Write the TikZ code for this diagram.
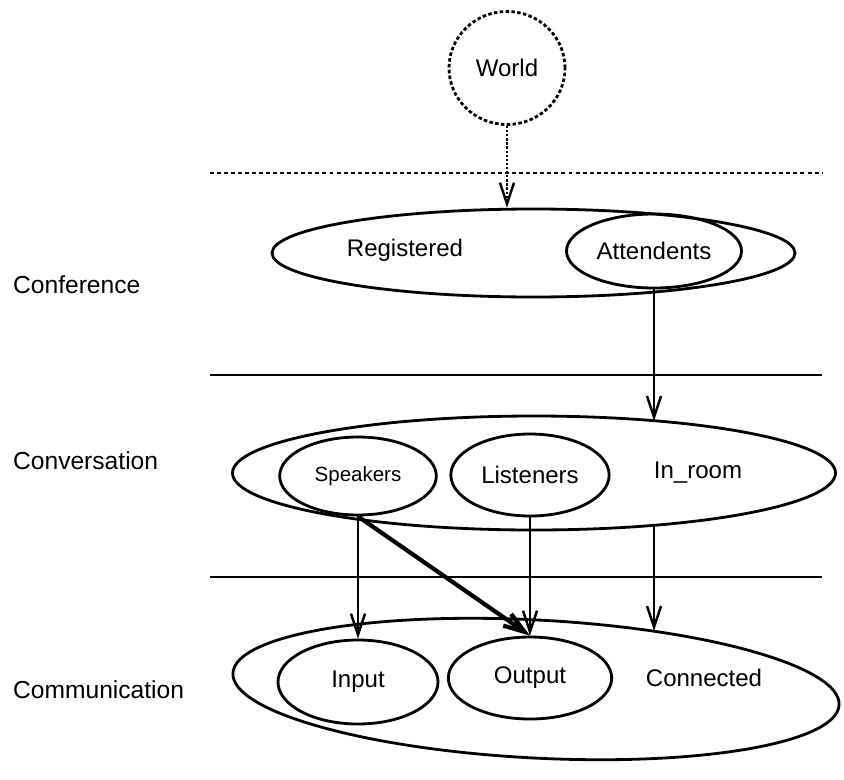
\documentclass[tikz,border=0pt]{standalone}
\usepackage{fontspec}
\setmainfont{Liberation Sans}
\usetikzlibrary{shapes.geometric,arrows.meta}

\begin{document}
\begin{tikzpicture}
[x=0.03cm,y=-0.03cm,>={Straight Barb[length=18pt,width=12pt]},
 set/.style={draw,ellipse,line width=2.4pt,inner sep=0pt,font=\fontsize{20.5}{24}\selectfont},
 setname/.style={font=\fontsize{20.5}{24}\selectfont},
 layer/.style={anchor=west,font=\fontsize{21}{25}\selectfont},
 link/.style={line width=2.1pt,->},
 rule/.style={line width=2.2pt}]

\useasboundingbox (0,0) rectangle (844,779);

% the sets
\node[set,dash pattern=on 3pt off 2pt,minimum width=3.48cm,minimum height=3.39cm] (world) at (507,68) {World};

\node[set,minimum width=15.69cm,minimum height=2.64cm] (conference) at (533.5,253) {};
\node[set,minimum width=5.25cm,minimum height=2.22cm] (attendents) at (654,251) {Attendents};

\node[set,minimum width=18.09cm,minimum height=3.42cm] (conversation) at (534,473) {};
\node[set,minimum width=4.7cm,minimum height=2.34cm,font=\fontsize{17.5}{21}\selectfont] (speakers) at (358,476) {Speakers};
\node[set,minimum width=4.75cm,minimum height=2.46cm] (listeners) at (530,475) {Listeners};

\node[set,rotate=-3,minimum width=18.21cm,minimum height=4.14cm] (communication) at (536,689) {};
\node[set,minimum width=4.8cm,minimum height=2.52cm] (input) at (358,682) {Input};
\node[set,minimum width=4.9cm,minimum height=2.46cm] (output) at (530,678) {Output};

% the names inside the big sets
\node[setname] (registered) at (405,250) {Registered};
\node[setname] (inroom) at (698,473) {In\_room};
\node[setname] (connected) at (704,678) {Connected};

% the layers
\node[layer] (lconference) at (9,285) {Conference};
\node[layer] (lconversation) at (9,461) {Conversation};
\node[layer] (lcommunication) at (9,690) {Communication};

\coordinate (lineA) at (210,173);
\coordinate (lineB) at (210,375);
\coordinate (lineC) at (210,577);
\draw[rule,dash pattern=on 3.4pt off 2.6pt] (lineA) -- ++(612,0);
\draw[rule] (lineB) -- ++(612,0);
\draw[rule] (lineC) -- ++(612,0);

% the ends on the big sets
\coordinate (roomtop) at (654,421);
\coordinate (roombot) at (654,525);
\coordinate (conntop) at (654,631);

% the arrows
\draw[link,dash pattern=on 2pt off 1.5pt] (world.south) -- (conference.north -| world.south);
\draw[link] (attendents.south) -- (roomtop);
\draw[link] (speakers.south) -- (input.north);
\draw[link,line width=3.6pt] (speakers.south) -- (output.north);
\draw[link] (listeners.south) -- (output.north);
\draw[link] (roombot) -- (conntop);

\end{tikzpicture}
\end{document}
